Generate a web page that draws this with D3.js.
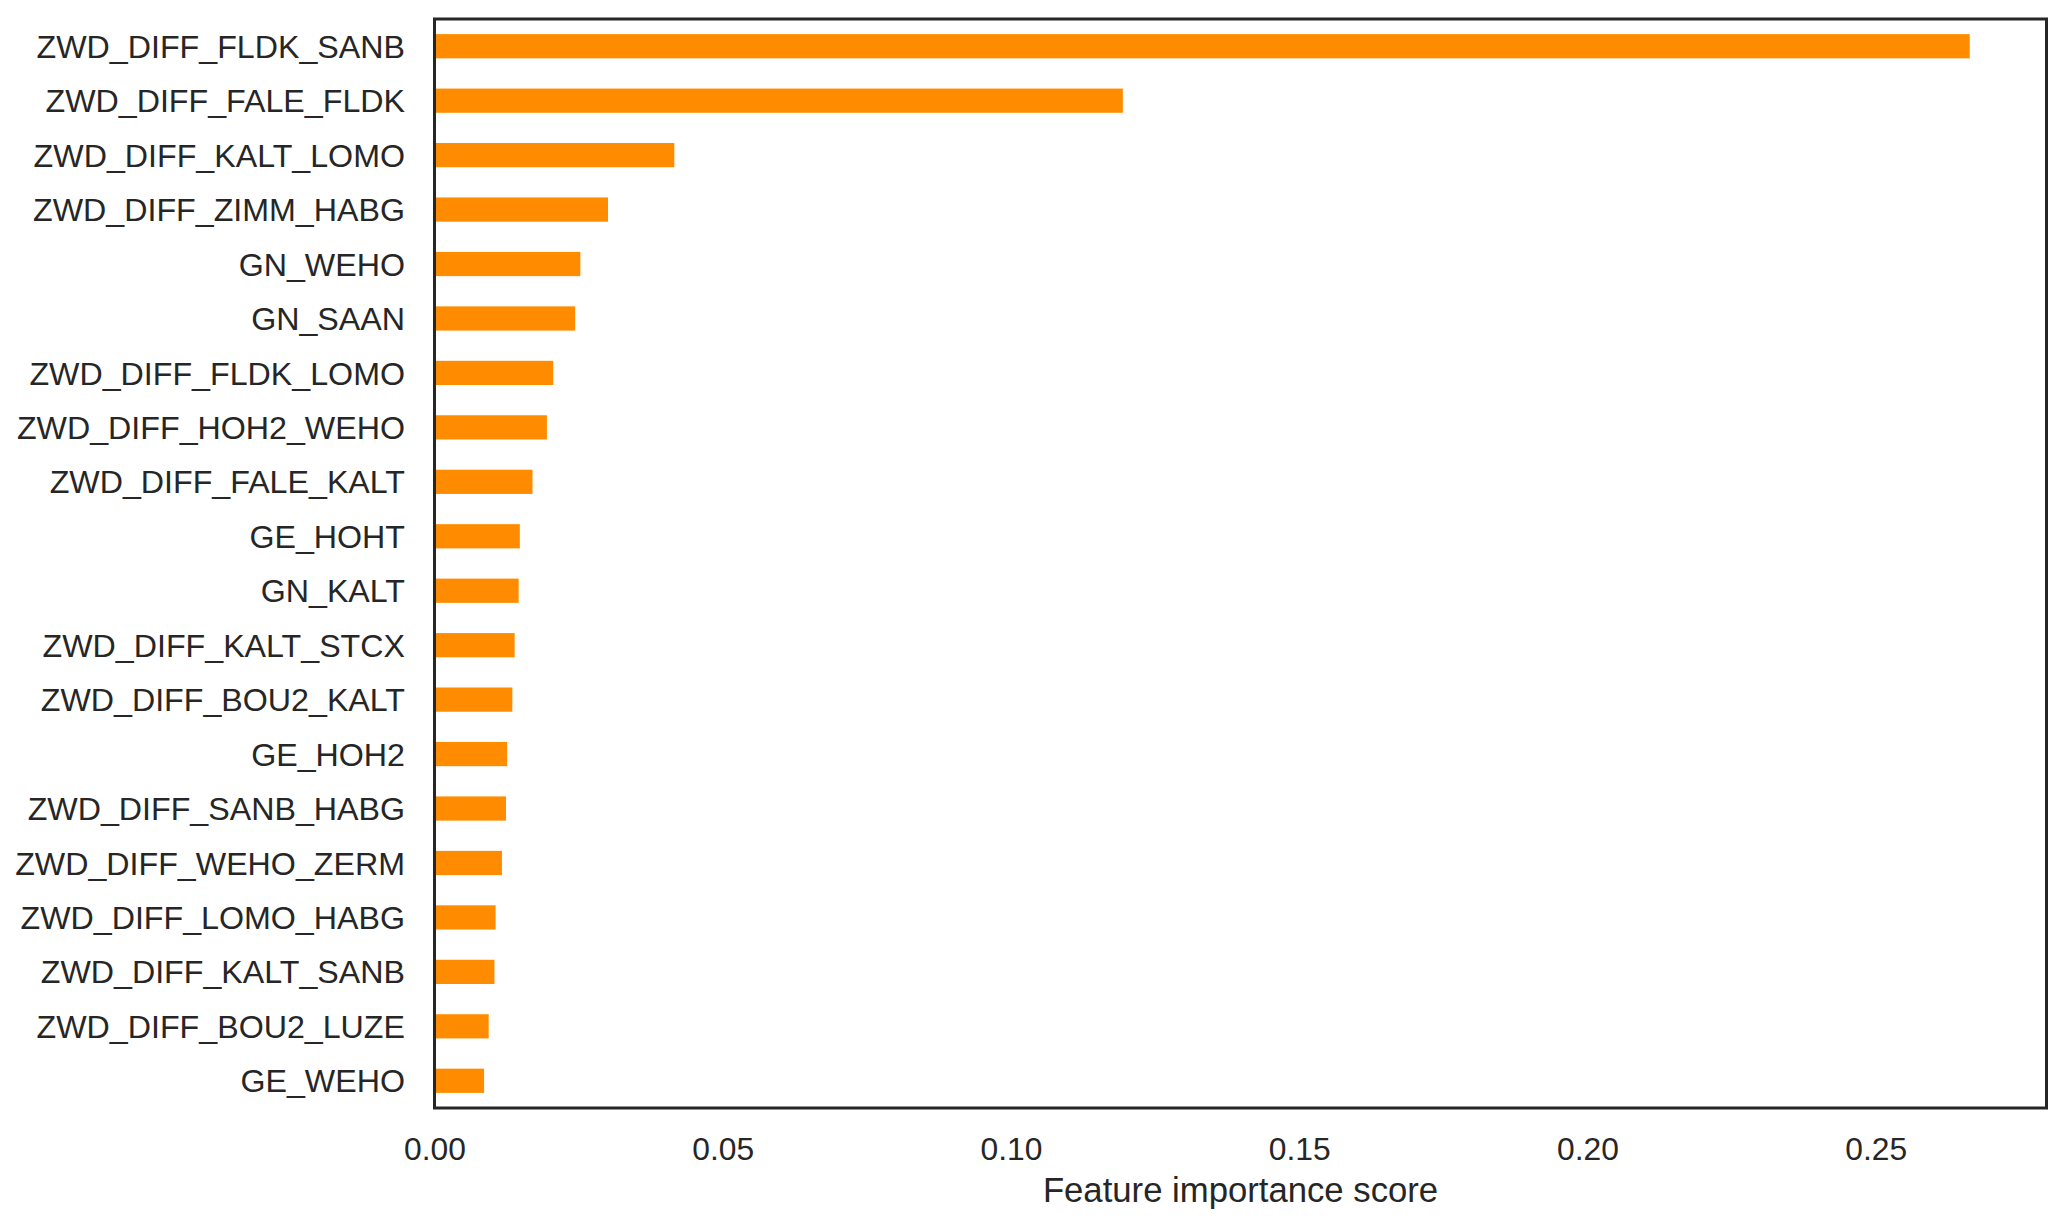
<!DOCTYPE html>
<html>
<head>
<meta charset="utf-8">
<script src="https://cdn.jsdelivr.net/npm/d3@7"></script>
<style>
  html, body { margin: 0; padding: 0; background: #ffffff; }
  svg { display: block; }
  text { font-family: "Liberation Sans", Arial, Helvetica, sans-serif; fill: #262626; }
</style>
</head>
<body>
<svg id="chart" width="2067" height="1227"></svg>
<script>
const features = [
  "ZWD_DIFF_FLDK_SANB", "ZWD_DIFF_FALE_FLDK", "ZWD_DIFF_KALT_LOMO", "ZWD_DIFF_ZIMM_HABG",
  "GN_WEHO", "GN_SAAN", "ZWD_DIFF_FLDK_LOMO", "ZWD_DIFF_HOH2_WEHO", "ZWD_DIFF_FALE_KALT",
  "GE_HOHT", "GN_KALT", "ZWD_DIFF_KALT_STCX", "ZWD_DIFF_BOU2_KALT", "GE_HOH2",
  "ZWD_DIFF_SANB_HABG", "ZWD_DIFF_WEHO_ZERM", "ZWD_DIFF_LOMO_HABG", "ZWD_DIFF_KALT_SANB",
  "ZWD_DIFF_BOU2_LUZE", "GE_WEHO"
];
const importance = [
  0.2663, 0.1194, 0.0416, 0.0301,
  0.0253, 0.0244, 0.0206, 0.0195, 0.0170,
  0.0148, 0.0146, 0.0139, 0.0135, 0.0126,
  0.0124, 0.0117, 0.0106, 0.0104,
  0.0094, 0.0086
];
const xTicks = [0, 0.05, 0.10, 0.15, 0.20, 0.25];
const xTickLabels = ["0.00", "0.05", "0.10", "0.15", "0.20", "0.25"];
const xTitle = "Feature importance score";

const data = features.map((f, i) => ({ name: f, value: importance[i] }));

const plotLeft = 434.5, plotRight = 2046.5, plotTop = 19, plotBottom = 1108;
const svg = d3.select("#chart");

const x = d3.scaleLinear().domain([0, d3.max(importance) * 1.05]).range([plotLeft, plotRight]);
const y = d3.scaleBand().domain(features).range([plotTop, plotBottom]).paddingInner(0.555).paddingOuter(0.2775);

svg.append("g").selectAll("rect").data(data).join("rect")
  .attr("x", x(0))
  .attr("y", d => y(d.name))
  .attr("width", d => x(d.value) - x(0))
  .attr("height", y.bandwidth())
  .attr("fill", "#ff8c00");

const xAxis = svg.append("g")
  .attr("transform", `translate(0,${plotBottom})`)
  .call(d3.axisBottom(x).tickValues(xTicks).tickFormat((d, i) => xTickLabels[i]).tickSize(0).tickPadding(29));
xAxis.select(".domain").remove();
xAxis.selectAll("text").style("font-size", "31.8px").attr("fill", "#262626")
  .style("font-family", "'Liberation Sans', Arial, sans-serif");

const yAxis = svg.append("g")
  .attr("transform", `translate(${plotLeft},0)`)
  .call(d3.axisLeft(y).tickSize(0).tickPadding(29.5));
yAxis.select(".domain").remove();
yAxis.selectAll("text").style("font-size", "32.2px").attr("fill", "#262626").attr("dy", "0.36em")
  .style("font-family", "'Liberation Sans', Arial, sans-serif");

svg.append("text")
  .attr("x", (plotLeft + plotRight) / 2)
  .attr("y", 1202)
  .attr("text-anchor", "middle")
  .style("font-size", "34.7px")
  .text(xTitle);

svg.append("rect")
  .attr("x", plotLeft).attr("y", plotTop)
  .attr("width", plotRight - plotLeft).attr("height", plotBottom - plotTop)
  .attr("fill", "none")
  .attr("stroke", "#262626")
  .attr("stroke-width", 3);
</script>
</body>
</html>
